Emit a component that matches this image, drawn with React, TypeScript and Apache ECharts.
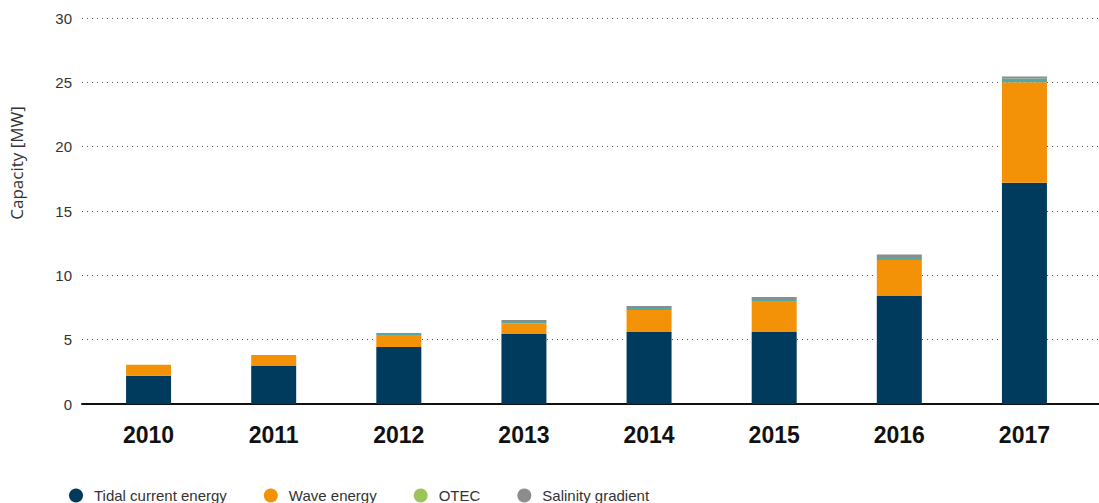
import React, { useEffect, useRef } from "react";
import * as echarts from "echarts";

const years = ["2010", "2011", "2012", "2013", "2014", "2015", "2016", "2017"];
const tidal = [2.2, 2.95, 4.43, 5.45, 5.6, 5.6, 8.4, 17.2];
const wave = [0.85, 0.85, 0.93, 0.82, 1.7, 2.4, 2.8, 7.8];
const otec = [0, 0, 0.15, 0.1, 0.16, 0.16, 0.22, 0.3];
const salinity = [0, 0, 0, 0.16, 0.15, 0.15, 0.2, 0.16];
const yTicks = [0, 5, 10, 15, 20, 25, 30];

const FONT = "'Liberation Sans', Arial, sans-serif";

export default function App() {
  const ref = useRef<HTMLDivElement>(null);
  useEffect(() => {
    const chart = echarts.init(ref.current!, null, { renderer: "svg" });
    const barSeries = (name: string, data: number[], color: string) => ({
      name,
      type: "bar",
      stack: "total",
      data,
      barWidth: 45,
      xAxisIndex: 0,
      yAxisIndex: 0,
      itemStyle: { color },
    });
    chart.setOption({
      animation: false,
      textStyle: { fontFamily: FONT },
      grid: [
        { left: 86, right: 12, top: 18, bottom: 99 },
        { left: 82, right: 0, top: 18, bottom: 99 },
      ],
      xAxis: [
        {
          type: "category",
          data: years,
          gridIndex: 0,
          axisLine: { show: false },
          axisTick: { show: false },
          axisLabel: {
            color: "#111",
            fontSize: 23,
            fontWeight: "bold",
            margin: 19,
            fontFamily: FONT,
          },
        },
        {
          type: "category",
          data: years,
          gridIndex: 1,
          axisLine: { show: true, lineStyle: { color: "#111", width: 2 } },
          axisTick: { show: false },
          axisLabel: { show: false },
        },
      ],
      yAxis: [
        {
          type: "value",
          gridIndex: 0,
          min: 0,
          max: 30,
          interval: 5,
          axisLabel: { show: false },
          splitLine: { show: false },
          axisLine: { show: false },
        },
        {
          type: "value",
          gridIndex: 1,
          min: yTicks[0],
          max: yTicks[yTicks.length - 1],
          interval: 5,
          axisLine: { show: false },
          axisTick: { show: false },
          axisLabel: { color: "#333", fontSize: 15, margin: 10, fontFamily: FONT },
          splitLine: {
            show: true,
            lineStyle: { color: "#555", width: 1, type: [1, 4] },
          },
        },
      ],
      legend: {
        left: 64,
        top: 483,
        icon: "circle",
        itemWidth: 26,
        itemHeight: 14,
        itemGap: 37,
        textStyle: { color: "#333", fontSize: 15, fontFamily: FONT },
        data: [
          { name: "Tidal current energy" },
          { name: "Wave energy" },
          { name: "OTEC", itemStyle: { color: "#9cc45a" } },
          { name: "Salinity gradient" },
        ],
      },
      graphic: [
        {
          type: "text",
          x: 8,
          y: 163,
          rotation: Math.PI / 2,
          style: {
            text: "Capacity [MW]",
            fill: "#333",
            fontSize: 17,
            fontFamily: "'Open Sans', sans-serif",
            align: "center",
            verticalAlign: "top",
          },
        },
      ],
      series: [
        barSeries("Tidal current energy", tidal, "#003a5d"),
        barSeries("Wave energy", wave, "#f39207"),
        barSeries("OTEC", otec, "#52a9a5"),
        barSeries("Salinity gradient", salinity, "#8c8c8c"),
      ],
    });
    return () => chart.dispose();
  }, []);
  return <div ref={ref} style={{ width: 1099, height: 503, position: "absolute", left: 0, top: 0 }} />;
}
